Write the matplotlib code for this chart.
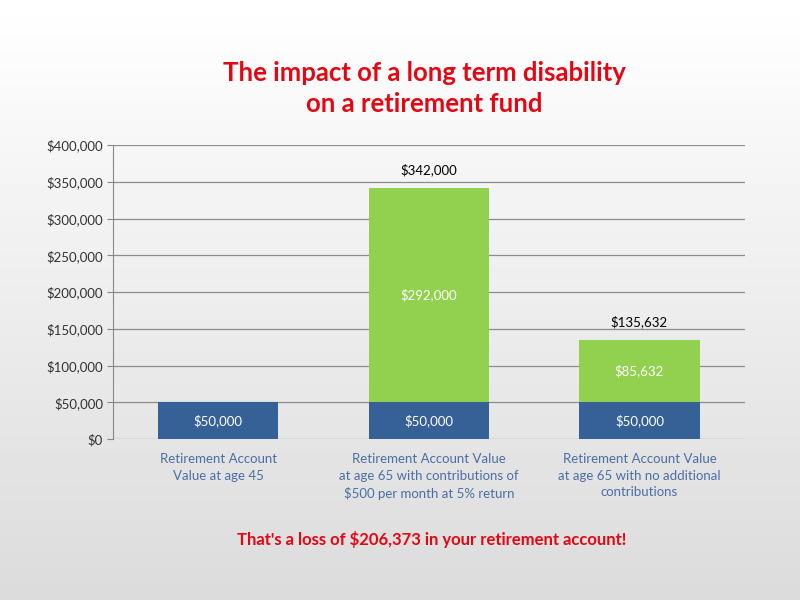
import numpy as np
import matplotlib.pyplot as plt

plt.rcParams['font.family'] = ['Lato', 'DejaVu Sans']

categories = ["Retirement Account\nValue at age 45",
              "Retirement Account Value\nat age 65 with contributions of\n$500 per month at 5% return",
              "Retirement Account Value\nat age 65 with no additional\ncontributions"]
base = [50000, 50000, 50000]
growth = [0, 292000, 85632]
totals = [None, 342000, 135632]
yticks = [0, 50000, 100000, 150000, 200000, 250000, 300000, 350000, 400000]

blue = "#366196"
green = "#92d050"

fig = plt.figure(figsize=(8, 6), dpi=100)

# background gradient
bg = fig.add_axes([0, 0, 1, 1], zorder=-10)
grad = np.linspace(1.0, 0.86, 200).reshape(-1, 1)
bg.imshow(grad, cmap="gray", vmin=0, vmax=1, aspect="auto", extent=[0, 1, 0, 1])
bg.axis("off")

ax = fig.add_axes([0.141, 0.268, 0.79, 0.49])
ax.patch.set_alpha(0)
x = np.arange(len(categories))
w = 0.57
ax.bar(x, base, width=w, color=blue, zorder=3)
ax.bar(x, growth, width=w, bottom=base, color=green, zorder=3)

for i in range(len(x)):
    ax.text(x[i], base[i] / 2, "${:,}".format(base[i]), color="white",
            ha="center", va="center", fontsize=9.5, zorder=4)
    if growth[i] > 0:
        ax.text(x[i], base[i] + growth[i] / 2, "${:,}".format(growth[i]), color="white",
                ha="center", va="center", fontsize=9.5, zorder=4)
    if totals[i]:
        ax.text(x[i], totals[i] + 16000, "${:,}".format(totals[i]), color="black",
                ha="center", va="bottom", fontsize=9.5, zorder=4)

ax.set_xlim(-0.5, 2.5)
ax.set_ylim(0, 400000)
ax.set_yticks(yticks)
ax.set_yticklabels(["${:,}".format(v) for v in yticks], fontsize=9.5, color="#333333")
ax.set_xticks(x)
ax.set_xticklabels(categories, fontsize=9.5, color="#4a6fa5", linespacing=1.45)
ax.tick_params(axis="x", length=0, pad=10)
ax.tick_params(axis="y", length=4, color="#888888", pad=3)
ax.grid(axis="y", color="#8c8c8c", linewidth=0.9, zorder=0)
for s in ["top", "right", "bottom"]:
    ax.spines[s].set_visible(False)
ax.spines["left"].set_color("#888888")

fig.text(0.53, 0.852, "The impact of a long term disability\non a retirement fund",
         ha="center", va="center", color="#e30613", fontsize=18.5, fontweight="bold",
         linespacing=1.35)
fig.text(0.54, 0.1, "That's a loss of $206,373 in your retirement account!",
         ha="center", va="center", color="#e30613", fontsize=12, fontweight="bold")

plt.savefig("out.png", dpi=100)
